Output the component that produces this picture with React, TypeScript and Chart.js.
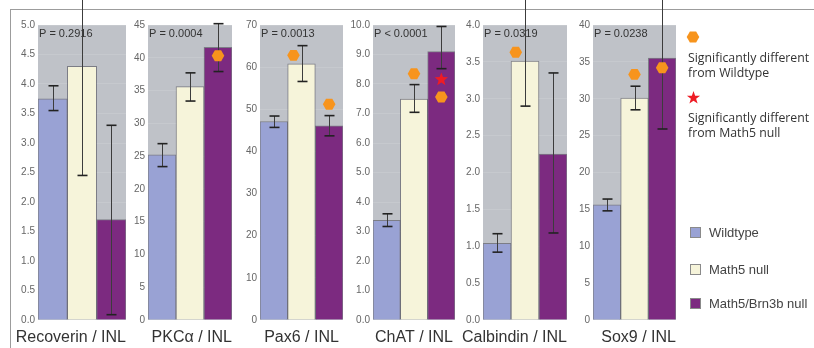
import React, { useEffect, useRef } from 'react';
import { Chart, registerables } from 'chart.js';
Chart.register(...registerables);

// ---------- data ----------
const groups = ['Wildtype', 'Math5 null', 'Math5/Brn3b null'];
const panelTitles = ['Recoverin / INL', 'PKCα / INL', 'Pax6 / INL', 'ChAT / INL', 'Calbindin / INL', 'Sox9 / INL'];
const pValues = ['P = 0.2916', 'P = 0.0004', 'P = 0.0013', 'P < 0.0001', 'P = 0.0319', 'P = 0.0238'];
const yMax = [5, 45, 70, 10, 4, 40];
const yStep = [0.5, 5, 10, 1, 0.5, 5];
const yDecimals = [1, 0, 0, 1, 1, 0];

const recoverinMean = [3.75, 4.3, 1.7];
const recoverinLow = [3.55, 2.45, 0.09];
const recoverinHigh = [3.97, 6.2, 3.3];

const pkcMean = [25.2, 35.6, 41.6];
const pkcLow = [23.4, 33.4, 37.9];
const pkcHigh = [26.9, 37.7, 45.2];

const pax6Mean = [47.1, 60.8, 46.1];
const pax6Low = [45.7, 56.6, 43.7];
const pax6High = [48.4, 65.1, 48.5];

const chatMean = [3.38, 7.49, 9.1];
const chatLow = [3.17, 7.04, 8.52];
const chatHigh = [3.6, 7.98, 9.95];

const calbindinMean = [1.04, 3.51, 2.25];
const calbindinLow = [0.92, 2.9, 1.18];
const calbindinHigh = [1.17, 4.6, 3.35];

const sox9Mean = [15.6, 30.1, 35.5];
const sox9Low = [14.8, 28.5, 25.9];
const sox9High = [16.4, 31.7, 45.5];

const means = [recoverinMean, pkcMean, pax6Mean, chatMean, calbindinMean, sox9Mean];
const lows = [recoverinLow, pkcLow, pax6Low, chatLow, calbindinLow, sox9Low];
const highs = [recoverinHigh, pkcHigh, pax6High, chatHigh, calbindinHigh, sox9High];

// significance markers: [group position, value]
const wildtypeSig: number[][][] = [[], [[2, 40.3]], [[0.71, 62.8], [2, 51.2]], [[1, 8.35], [2, 7.56]], [[0.67, 3.63]], [[1, 33.3], [2, 34.2]]];
const math5Sig: number[][][] = [[], [], [], [[2, 8.18]], [], []];

// ---------- layout / style ----------
const plotLeft = [38, 148, 260, 373, 483, 593];
const plotRight = [126, 232, 343, 455, 567, 676];
const titleAlign = ['end', 'end', 'center', 'center', 'end', 'end'];
const YW = 26;
const RP = 4;
const H = 348;
const groupColors = ['#99A2D4', '#F6F4DA', '#7C2A80'];
const plotBg = '#BFC2C8';
const ORANGE = '#F7941D';
const RED = '#EE1C25';
const FONT = '"Liberation Sans", Arial, sans-serif';

function drawHex(ctx: CanvasRenderingContext2D, cx: number, cy: number, r: number) {
  ctx.beginPath();
  for (let k = 0; k < 6; k++) {
    const a = (Math.PI / 3) * k;
    const px = cx + r * Math.cos(a);
    const py = cy + r * Math.sin(a);
    if (k === 0) ctx.moveTo(px, py); else ctx.lineTo(px, py);
  }
  ctx.closePath();
  ctx.fillStyle = ORANGE;
  ctx.fill();
}

function drawStar(ctx: CanvasRenderingContext2D, cx: number, cy: number, r: number) {
  ctx.beginPath();
  for (let k = 0; k < 10; k++) {
    const rr = k % 2 === 0 ? r : r * 0.42;
    const a = -Math.PI / 2 + (Math.PI / 5) * k;
    const px = cx + rr * Math.cos(a);
    const py = cy + 0.8 + rr * Math.sin(a);
    if (k === 0) ctx.moveTo(px, py); else ctx.lineTo(px, py);
  }
  ctx.closePath();
  ctx.fillStyle = RED;
  ctx.fill();
}

function Panel({ i }: { i: number }) {
  const ref = useRef<HTMLCanvasElement>(null);
  const width = plotRight[i] - plotLeft[i] + YW + RP;
  useEffect(() => {
    const decor = {
      id: 'decor' + i,
      beforeDraw(chart: any) {
        const { ctx, chartArea } = chart;
        ctx.save();
        ctx.fillStyle = plotBg;
        ctx.fillRect(chartArea.left, chartArea.top, chartArea.right - chartArea.left, chartArea.bottom - chartArea.top);
        ctx.restore();
      },
      beforeDatasetsDraw(chart: any) {
        const { ctx, chartArea } = chart;
        ctx.save();
        ctx.font = '11px ' + FONT;
        ctx.fillStyle = '#333';
        ctx.textBaseline = 'alphabetic';
        ctx.textAlign = 'left';
        ctx.fillText(pValues[i], chartArea.left + 1, chartArea.top + 12);
        ctx.restore();
      },
      afterDatasetsDraw(chart: any) {
        const { ctx } = chart;
        const meta = chart.getDatasetMeta(0);
        const xs = chart.scales.x;
        const ys = chart.scales.y;
        ctx.save();
        meta.data.forEach((bar: any, j: number) => {
          const x = Math.round(bar.x) + 0.5;
          const yl = ys.getPixelForValue(lows[i][j]);
          const yh = ys.getPixelForValue(highs[i][j]);
          ctx.strokeStyle = '#3c3c3c';
          ctx.lineWidth = 1;
          ctx.beginPath();
          ctx.moveTo(x, yl);
          ctx.lineTo(x, yh);
          ctx.stroke();
          ctx.strokeStyle = '#222';
          ctx.lineWidth = 1.6;
          [yl, yh].forEach((yy) => {
            if (yy < 0) return;
            ctx.beginPath();
            ctx.moveTo(x - 5, yy);
            ctx.lineTo(x + 5, yy);
            ctx.stroke();
          });
        });
        wildtypeSig[i].forEach(([gx, v]) => drawHex(ctx, xs.getPixelForValue(gx), ys.getPixelForValue(v), 6.3));
        math5Sig[i].forEach(([gx, v]) => drawStar(ctx, xs.getPixelForValue(gx), ys.getPixelForValue(v), 7));
        ctx.restore();
      },
      afterDraw(chart: any) {
        const { ctx, chartArea } = chart;
        ctx.save();
        ctx.font = '16px ' + FONT;
        ctx.fillStyle = '#333';
        ctx.textBaseline = 'middle';
        const end = titleAlign[i] === 'end';
        ctx.textAlign = end ? 'right' : 'center';
        const tx = end ? chartArea.right : (chartArea.left + chartArea.right) / 2;
        ctx.fillText(panelTitles[i], tx, chartArea.bottom + 17.5);
        ctx.restore();
      },
    };
    const chart = new Chart(ref.current!, {
      type: 'bar',
      data: {
        labels: groups,
        datasets: [
          {
            data: means[i],
            backgroundColor: groupColors,
            borderColor: 'rgba(70,70,80,0.55)',
            borderWidth: 1,
            categoryPercentage: 1,
            barPercentage: 1,
          },
        ],
      },
      options: {
        responsive: false,
        animation: false,
        layout: { padding: { top: 25, right: RP, left: 0, bottom: 0 } },
        plugins: { legend: { display: false }, tooltip: { enabled: false } },
        scales: {
          x: {
            type: 'category',
            offset: true,
            grid: { display: false },
            border: { display: false },
            ticks: { display: false },
            title: { display: false },
            afterFit: (s: any) => { s.height = 28; },
          },
          y: {
            type: 'linear',
            min: 0,
            max: yMax[i],
            ticks: {
              stepSize: yStep[i],
              callback: (v: any) => Number(v).toFixed(yDecimals[i]),
              color: '#666',
              font: { family: FONT, size: 10 },
              padding: 3,
            },
            grid: { color: 'rgba(255,255,255,0.12)', drawTicks: false },
            border: { display: false },
            afterFit: (s: any) => { s.width = YW; },
          },
        } as any,
      },
      plugins: [decor],
    } as any);
    return () => chart.destroy();
  }, [i]);
  return (
    <canvas
      ref={ref}
      width={width}
      height={H}
      style={{ position: 'absolute', left: plotLeft[i] - YW, top: 0, width, height: H }}
    />
  );
}

const legendText = { fontFamily: '"Open Sans", "Noto Sans", sans-serif', fontSize: 12.3, color: '#333', lineHeight: '15px' };
const boxText = { fontFamily: FONT, fontSize: 13, color: '#444' };

export default function App() {
  return (
    <div style={{ position: 'absolute', left: 0, top: 0, width: 814, height: H, overflow: 'hidden', background: '#fff' }}>
      <div style={{ position: 'absolute', left: 10, top: 9, width: 820, height: 360, borderTop: '1px solid #9c9c9c', borderLeft: '1px solid #9c9c9c' }} />
      {panelTitles.map((_, i) => <Panel key={i} i={i} />)}
      <svg style={{ position: 'absolute', left: 686, top: 30 }} width={14} height={14}>
        <polygon points="13.3,7 10.15,12.46 3.85,12.46 0.7,7 3.85,1.54 10.15,1.54" fill={ORANGE} />
      </svg>
      <div style={{ position: 'absolute', left: 688, top: 50, whiteSpace: 'nowrap', ...legendText }}>
        Significantly different<br />from Wildtype
      </div>
      <svg style={{ position: 'absolute', left: 686, top: 90 }} width={15} height={15}>
        <polygon points="7.5,1 9.15,5.7 14.1,5.8 10.1,8.8 11.6,13.6 7.5,10.7 3.4,13.6 4.9,8.8 0.9,5.8 5.85,5.7" fill={RED} />
      </svg>
      <div style={{ position: 'absolute', left: 688, top: 110, whiteSpace: 'nowrap', ...legendText }}>
        Significantly different<br />from Math5 null
      </div>
      {groups.map((g, k) => (
        <div key={g} style={{ position: 'absolute', left: 690, top: [226, 263, 297][k], height: 12, display: 'flex', alignItems: 'center', whiteSpace: 'nowrap' }}>
          <div style={{ width: 9, height: 9, background: groupColors[k], border: '1px solid #8a8a8a', marginRight: 8 }} />
          <span style={boxText}>{g}</span>
        </div>
      ))}
    </div>
  );
}
